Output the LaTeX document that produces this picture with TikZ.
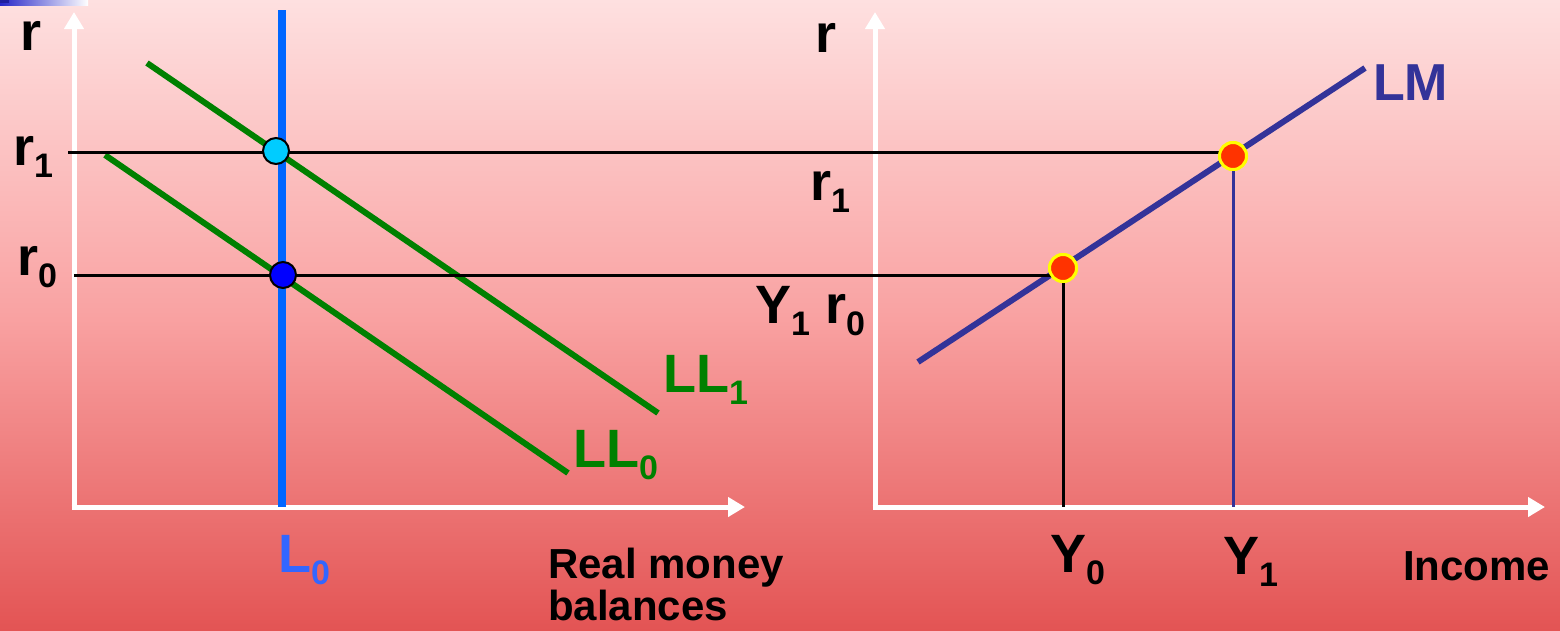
\documentclass[tikz,border=0pt]{standalone}
\usepackage{fontspec}
\setmainfont{Liberation Sans}
\usetikzlibrary{arrows.meta}
\definecolor{BgTop}{HTML}{FEE0E0}
\definecolor{BgMiddle}{HTML}{F9A2A2}
\definecolor{BgBottom}{HTML}{E35454}
\definecolor{BarBlue}{HTML}{2626C8}
\definecolor{LLGreen}{HTML}{008000}
\definecolor{LMBlue}{HTML}{333399}
\definecolor{LLine}{HTML}{0066FF}
\definecolor{LText}{HTML}{3366FF}
\definecolor{DotCyan}{HTML}{00CCFF}
\definecolor{DotBlue}{HTML}{0000FF}
\definecolor{EqRed}{HTML}{FF3300}
\definecolor{EqYellow}{HTML}{FFFF00}
\pgfdeclareverticalshading{slidebg}{100bp}{color(0bp)=(BgBottom); color(25bp)=(BgBottom);
  color(50bp)=(BgMiddle); color(75bp)=(BgTop); color(100bp)=(BgTop)}
\newcommand{\lowsub}[1]{\raisebox{-12pt}{\fontsize{34}{34}\selectfont#1}}

\begin{document}
\begin{tikzpicture}[x=1pt,y=-1pt,
  axis/.style={draw=white,line width=5pt,-{Triangle[width=19pt,length=17pt]}},
  sched/.style={line width=6pt},
  guide/.style={draw=black,line width=3pt},
  dot/.style={circle,draw=black,line width=2pt,minimum size=26pt,inner sep=0pt},
  eqdot/.style={circle,draw=EqYellow,fill=EqRed,line width=3pt,minimum size=27pt,inner sep=0pt},
  lbl/.style={inner sep=0pt,anchor=base west,font=\bfseries\fontsize{54}{54}\selectfont},
  axlbl/.style={inner sep=0pt,anchor=base west,align=left,font=\bfseries\fontsize{42}{42}\selectfont}]
  \useasboundingbox (0,0) rectangle (1560,630);
  \shade[shading=slidebg] (0,0) rectangle (1560,630);
  \shade[left color=BarBlue,right color=white] (0,0) rectangle (88,5);
  \fill[BarBlue!80!black] (0,0) rectangle (9,3);
  % axes
  \coordinate (lo) at (74,507); \coordinate (ro) at (875,507);
  \draw[axis] (74,509.5) -- (74,12);
  \draw[axis] (71.5,507) -- (745,507);
  \draw[axis] (875,509.5) -- (875,12);
  \draw[axis] (872.5,507) -- (1545,507);
  % money market
  \coordinate (ltop) at (282,10);
  \draw[LLine,line width=8pt] (ltop) -- (ltop |- lo);
  \coordinate (ll1a) at (147,63); \coordinate (ll1b) at (658,413);
  \coordinate (ll0a) at (105,155); \coordinate (ll0b) at (568,473);
  \draw[sched,LLGreen] (ll1a) -- (ll1b);
  \draw[sched,LLGreen] (ll0a) -- (ll0b);
  \coordinate (lmA) at (918,362); \coordinate (lmB) at (1365,68);
  \draw[sched,LMBlue] (lmA) -- (lmB);
  % equilibrium points
  \node[eqdot] (y1dot) at (1233,156) {};
  \node[eqdot] (y0dot) at (1063,268) {};
  \coordinate (r1a) at (68,152); \coordinate (r0a) at (74,275);
  \draw[guide] (r1a) -- (r1a -| y1dot);
  \draw[guide] (r0a) -- (r0a -| y0dot);
  \draw[guide] (y0dot) -- (y0dot |- ro);
  \draw[LMBlue,line width=3pt] (y1dot) -- (y1dot |- ro);
  \node[eqdot] at (y1dot) {}; \node[eqdot] at (y0dot) {};
  \node[dot,fill=DotCyan] (c1) at (276,151) {};
  \node[dot,fill=DotBlue] (c0) at (283,275) {};
  % labels
  \node[lbl] (rl) at (20,50) {r};
  \node[lbl] (r1l) at (13,165) {r\lowsub{1}};
  \node[lbl] (r0l) at (17,275) {r\lowsub{0}};
  \node[lbl] (rr) at (815,52) {r};
  \node[lbl] (r1r) at (810,200) {r\lowsub{1}};
  \node[lbl] (y1r0) at (755,323) {Y\lowsub{1} r\lowsub{0}};
  \node[lbl,text=LLGreen] (ll1) at (663,392) {LL\lowsub{1}};
  \node[lbl,text=LLGreen] (ll0) at (573,467) {LL\lowsub{0}};
  \node[lbl,text=LMBlue,font=\bfseries\fontsize{52}{52}\selectfont] (lm) at (1373,100) {LM};
  \node[lbl,text=LText] (l0) at (278,572) {L\lowsub{0}};
  \node[lbl] (y0) at (1050,572) {Y\lowsub{0}};
  \node[lbl] (y1) at (1223,574) {Y\lowsub{1}};
  \node[axlbl] (inc) at (1403,580) {Income};
  \node[axlbl] (rmb) at (548,620) {Real money\\balances};
\end{tikzpicture}
\end{document}
